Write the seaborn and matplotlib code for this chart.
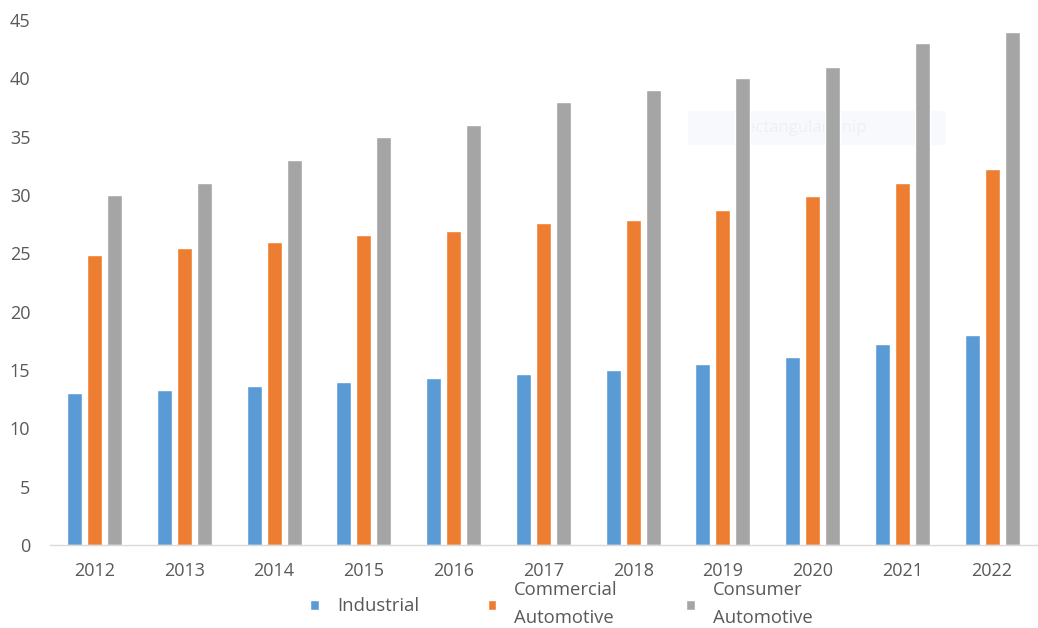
import matplotlib
matplotlib.use("Agg")
import matplotlib.pyplot as plt
import matplotlib.patches as mpatches
import seaborn as sns
import pandas as pd
import numpy as np
from matplotlib.ticker import FixedLocator

years = ["2012", "2013", "2014", "2015", "2016", "2017", "2018", "2019", "2020", "2021", "2022"]
industrial = [13.0, 13.3, 13.6, 14.0, 14.3, 14.65, 15.0, 15.5, 16.1, 17.2, 18.0]
commercial = [24.9, 25.5, 26.0, 26.6, 26.9, 27.6, 27.9, 28.7, 29.9, 31.0, 32.2]
consumer = [30.0, 31.0, 33.0, 35.0, 36.0, 38.0, 39.0, 40.0, 41.0, 43.0, 44.0]
series_names = ["Industrial", "Commercial\nAutomotive", "Consumer\nAutomotive"]
colors = ["#5B9BD5", "#ED7D31", "#A5A5A5"]
y_ticks = [0, 5, 10, 15, 20, 25, 30, 35, 40, 45]

df = pd.DataFrame({
    "Year": years * 3,
    "Value": industrial + commercial + consumer,
    "Series": [n for n in series_names for _ in years],
})

sns.set_theme(style="white")
plt.rcParams['font.family'] = ['Open Sans', 'DejaVu Sans']

fig = plt.figure(figsize=(10.38, 6.28), dpi=100)
ax = fig.add_axes([0.048, 0.132, 0.951, 0.836])

sns.barplot(data=df, x="Year", y="Value", hue="Series", hue_order=series_names,
            palette=colors, width=0.667, gap=0.25, saturation=1, ax=ax,
            legend=True, zorder=2)

ax.set_ylim(0, 45)
ax.set_xlim(-0.5, len(years) - 0.5)
ax.set_yticks(y_ticks)
ax.set_xlabel("")
ax.set_ylabel("")

for s in ["top", "right", "left"]:
    ax.spines[s].set_visible(False)
ax.spines["bottom"].set_color("#D9D9D9")
ax.spines["bottom"].set_linewidth(1.0)

ax.tick_params(axis="y", length=0, pad=14, labelsize=13, labelcolor="#595959")
ax.tick_params(axis="x", which="major", length=0, pad=12, labelsize=13, labelcolor="#595959")
ax.xaxis.set_minor_locator(FixedLocator(np.arange(-0.5, len(years), 1.0)))
ax.tick_params(axis="x", which="minor", length=5, width=1, color="#D9D9D9", direction="out")

# faint screen-capture artifact
ax.add_patch(mpatches.Rectangle((0.646, 0.762), 0.262, 0.064, transform=ax.transAxes,
                                facecolor="#F7F9FD", edgecolor="none", zorder=0.5))
ax.text(0.695, 0.794, "Rectangular Snip", transform=ax.transAxes, fontsize=12,
        color="#EEF0F5", va="center", ha="left", zorder=0.6)

handles, labels = ax.get_legend_handles_labels()
ax.get_legend().remove()
leg = fig.legend(handles, labels, loc="center", bbox_to_anchor=(0.541, 0.038), ncol=3,
                 frameon=False, fontsize=13.3, labelcolor="#595959",
                 handlelength=0.45, handleheight=0.45, handletextpad=1.0, columnspacing=3.7)
for t in leg.get_texts():
    t.set_linespacing(1.75)

fig.savefig("out.png", dpi=100, facecolor="white")
